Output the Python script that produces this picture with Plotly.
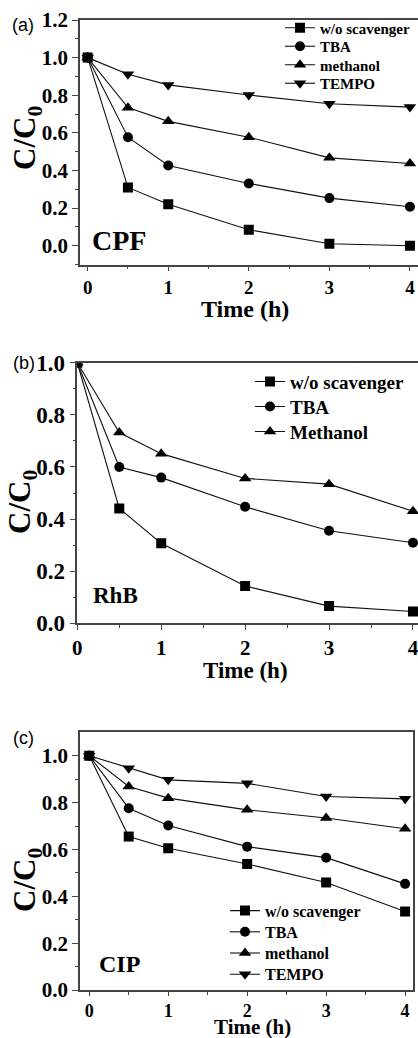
import plotly.graph_objects as go

W, H = 418, 1038

# ---------------- data ----------------
time_h = [0, 0.5, 1, 2, 3, 4]

a_wo = [1.0, 0.31, 0.22, 0.085, 0.01, 0.0]
a_tba = [1.0, 0.577, 0.426, 0.331, 0.253, 0.207]
a_meth = [1.0, 0.734, 0.661, 0.577, 0.467, 0.437]
a_tempo = [1.0, 0.911, 0.855, 0.801, 0.755, 0.737]

b_wo = [1.0, 0.441, 0.307, 0.143, 0.066, 0.045]
b_tba = [1.0, 0.600, 0.559, 0.447, 0.355, 0.309]
b_meth = [1.0, 0.732, 0.651, 0.556, 0.534, 0.43]

c_wo = [1.0, 0.655, 0.605, 0.538, 0.459, 0.335]
c_tba = [1.0, 0.776, 0.702, 0.612, 0.565, 0.453]
c_meth = [1.0, 0.869, 0.819, 0.769, 0.734, 0.688]
c_tempo = [1.0, 0.947, 0.897, 0.882, 0.826, 0.816]

x_ticks = [0, 1, 2, 3, 4]
names_a = ["w/o scavenger", "TBA", "methanol", "TEMPO"]
names_b = ["w/o scavenger", "TBA", "Methanol"]
names_c = ["w/o scavenger", "TBA", "methanol", "TEMPO"]
symbols = ["square", "circle", "triangle-up", "triangle-down"]
sym_size = [10, 10, 11, 11]

SERIF = "Liberation Serif, Times New Roman, serif"
SANS = "Liberation Sans, Arial, sans-serif"


def px(x):
    return x / W


def py(y):
    return 1 - y / H


fig = go.Figure()

# legend placement per panel: (text-start x px, first entry y px, spacing px, font size)
panels = [
    dict(ax="", series=[a_wo, a_tba, a_meth, a_tempo], names=names_a,
         leg=(320, 28, 18.5, 15)),
    dict(ax="2", series=[b_wo, b_tba, b_meth], names=names_b,
         leg=(290, 381.7, 25, 19)),
    dict(ax="3", series=[c_wo, c_tba, c_meth, c_tempo], names=names_c,
         leg=(265, 910.7, 21.2, 16)),
]

legends = {}
li = 0
for pi, p in enumerate(panels):
    tx, ty, dy, fs = p["leg"]
    for s, (vals, nm) in enumerate(zip(p["series"], p["names"])):
        li += 1
        lname = "legend" if li == 1 else f"legend{li}"
        fig.add_trace(go.Scatter(
            x=time_h, y=vals, name=nm, mode="lines+markers",
            line=dict(color="#111111", width=1.1),
            marker=dict(symbol=symbols[s], size=sym_size[s], color="#000000"),
            xaxis="x" + p["ax"], yaxis="y" + p["ax"], legend=lname,
        ))
        legends[lname] = dict(
            x=px(tx - 40), y=py(ty + s * dy), xanchor="left", yanchor="middle",
            bgcolor="rgba(0,0,0,0)", borderwidth=0, itemwidth=30,
            font=dict(family=SERIF, size=fs, color="#000", weight="bold"),
        )

AX = "#444444"


def xaxis(domain, rng, anchor, fsize, tlen=5):
    return dict(
        domain=domain, range=rng, anchor=anchor,
        tickvals=x_ticks, ticktext=[f"<b>{v}</b>" for v in x_ticks],
        ticks="outside", ticklen=tlen, tickwidth=1.3,
        tickcolor=AX, showline=True, linecolor=AX, linewidth=1.5, mirror=True,
        showgrid=False, zeroline=False, ticklabeloverflow="allow",
        tickfont=dict(family=SERIF, size=fsize, color="#000", weight="bold"),
        minor=dict(tickvals=[0.5, 1.5, 2.5, 3.5], ticks="outside", ticklen=3,
                   tickcolor=AX, tickwidth=1.2),
    )


def yaxis(domain, rng, anchor, tv, minor, fsize):
    return dict(
        domain=domain, range=rng, anchor=anchor,
        tickvals=tv, ticktext=[f"<b>{v:.1f}</b>" for v in tv],
        ticks="outside", ticklen=6, tickwidth=1.3,
        tickcolor=AX, showline=True, linecolor=AX, linewidth=1.5, mirror=True,
        showgrid=False, zeroline=False, ticklabeloverflow="allow",
        tickfont=dict(family=SERIF, size=fsize, color="#000", weight="bold"),
        minor=dict(tickvals=minor, ticks="outside", ticklen=3, tickcolor=AX,
                   tickwidth=1.2),
    )


yt_a = [0.0, 0.2, 0.4, 0.6, 0.8, 1.0, 1.2]
yt_b = [0.0, 0.2, 0.4, 0.6, 0.8, 1.0]
yt_c = [0.0, 0.2, 0.4, 0.6, 0.8, 1.0]

layout = dict(
    width=W, height=H, margin=dict(l=0, r=0, t=0, b=0, autoexpand=False),
    paper_bgcolor="white", plot_bgcolor="white",
    xaxis=xaxis([px(80), 1.0], [-0.095, 4.1], "y", 19),
    yaxis=yaxis([py(264.5), py(20)], [-0.1, 1.2], "x", yt_a,
                [-0.1, 0.1, 0.3, 0.5, 0.7, 0.9, 1.1], 21),
    xaxis2=xaxis([px(77.3), 1.0], [0, 4.06], "y2", 21),
    yaxis2=yaxis([py(623.3), py(362.7)], [0, 1.0], "x2", yt_b,
                 [0.1, 0.3, 0.5, 0.7, 0.9], 23),
    xaxis3=xaxis([px(80), px(413)], [-0.117, 4.1], "y3", 18, tlen=4),
    yaxis3=yaxis([py(990), py(732.3)], [0, 1.1], "x3", yt_c,
                 [0.1, 0.3, 0.5, 0.7, 0.9], 21),
    showlegend=True,
    **legends,
)
fig.update_layout(**layout)

ann = []


def text(x, y, s, size, family=SERIF, bold=True, angle=0, xa="center", ya="middle"):
    ann.append(dict(
        x=px(x), y=py(y), xref="paper", yref="paper", text=s, showarrow=False,
        textangle=angle, xanchor=xa, yanchor=ya,
        font=dict(family=family, size=size, color="#000",
                  weight="bold" if bold else "normal"),
    ))


# panel labels
text(23, 25, "(a)", 18, family=SANS, bold=False)
text(24, 363, "(b)", 18, family=SANS, bold=False)
text(23, 738, "(c)", 18, family=SANS, bold=False)

# y-axis titles
text(27, 138, "C/C<sub>0</sub>", 31, angle=-90)
text(22, 502, "C/C<sub>0</sub>", 31, angle=-90)
text(27, 880, "C/C<sub>0</sub>", 31, angle=-90)

# x-axis titles
text(245, 309, "Time (h)", 24)
text(245, 670, "Time (h)", 23)
text(252, 1027, "Time (h)", 21)

# sample labels
text(119, 240, "CPF", 28)
text(115, 595, "RhB", 23)
text(119, 964, "CIP", 24)

fig.update_layout(annotations=ann)

fig.write_html("out.html")
